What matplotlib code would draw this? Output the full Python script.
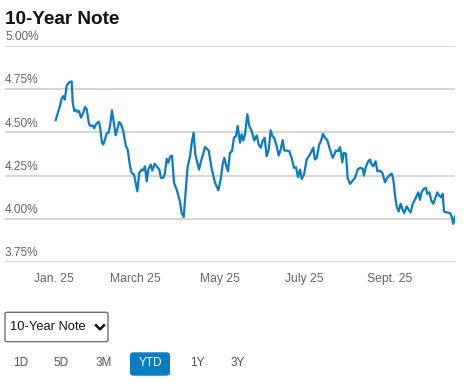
import matplotlib
matplotlib.use("Agg")
import matplotlib.pyplot as plt
import matplotlib.dates as mdates
from matplotlib.patches import FancyBboxPatch
from matplotlib.lines import Line2D
import datetime as dt

plt.rcParams['font.family'] = ['Liberation Sans', 'DejaVu Sans']

# days since Jan 1 2025 and 10-year yield (%)
days = [1.2, 4.3, 5.6, 6.7, 7.8, 9.2, 10.9, 12.8, 13.6, 14.7, 15.9, 16.9, 18.1, 19.6,
        21.2, 22.5, 23.7, 25.4, 26.6, 28.0, 29.2, 30.4, 32.4, 33.3, 34.8, 35.7, 37.0,
        38.2, 39.6, 40.8, 42.0, 43.0, 44.7, 46.2, 47.3, 48.6, 50.2, 52.0, 53.4, 55.1,
        56.3, 58.0, 60.4, 61.8, 63.6, 64.7, 65.9, 67.2, 68.3, 70.1, 71.2, 73.0, 74.4,
        76.3, 77.5, 79.2, 80.2, 81.7, 82.8, 84.1, 85.5, 87.0, 88.9, 91.3, 92.5, 94.0,
        95.7, 96.9, 98.6, 100.0, 101.2, 102.4, 105.1, 106.5, 107.8, 109.4, 110.7, 112.1,
        114.3, 116.7, 119.1, 120.8, 122.2, 123.4, 124.6, 126.1, 127.5, 129.0, 130.4,
        131.9, 133.1, 134.8, 136.0, 137.2, 138.4, 140.1, 141.5, 142.8, 144.0, 145.1,
        146.9, 148.3, 149.8, 151.2, 152.7, 154.1, 155.6, 157.0, 158.2, 159.6, 161.4,
        162.8, 164.3, 165.7, 166.9, 168.6, 170.5, 172.2, 173.9, 175.4, 176.8, 178.3,
        179.5, 181.2, 183.1, 185.0, 186.7, 187.9, 189.1, 190.4, 192.2, 193.5, 194.9,
        196.4, 198.0, 200.0, 202.0, 203.1, 204.3, 206.0, 207.2, 208.0, 208.9, 210.1,
        211.6, 212.8, 214.5, 216.4, 218.1, 220.1, 221.7, 223.7, 224.6, 226.1, 227.8,
        229.0, 230.2, 231.4, 233.1, 234.3, 236.2, 237.9, 239.9, 241.5, 243.0, 244.7,
        245.9, 247.1, 248.3, 249.8, 251.2, 252.7, 253.8, 255.6, 257.0, 258.5, 259.9,
        261.6, 262.8, 264.0, 265.2, 266.4, 268.1, 269.6, 270.5, 272.0, 273.4, 274.9,
        276.3, 277.8, 279.2, 280.4, 281.7, 282.6, 284.6, 287.0, 288.2, 289.3, 290.6]
yields = [4.57, 4.653, 4.696, 4.71, 4.69, 4.77, 4.79, 4.795, 4.67, 4.624, 4.63, 4.618,
          4.624, 4.585, 4.614, 4.647, 4.634, 4.547, 4.537, 4.54, 4.523, 4.547, 4.562,
          4.537, 4.44, 4.43, 4.46, 4.494, 4.498, 4.547, 4.628, 4.576, 4.484, 4.527,
          4.56, 4.547, 4.508, 4.424, 4.40, 4.304, 4.266, 4.256, 4.159, 4.266, 4.285,
          4.28, 4.304, 4.217, 4.285, 4.314, 4.279, 4.318, 4.304, 4.285, 4.237, 4.237,
          4.256, 4.347, 4.324, 4.359, 4.366, 4.208, 4.169, 4.10, 4.033, 4.01, 4.188,
          4.304, 4.362, 4.45, 4.498, 4.372, 4.285, 4.333, 4.366, 4.415, 4.405, 4.395,
          4.289, 4.208, 4.165, 4.227, 4.314, 4.353, 4.314, 4.275, 4.382, 4.391, 4.469,
          4.479, 4.537, 4.44, 4.488, 4.453, 4.488, 4.605, 4.537, 4.517, 4.488, 4.453,
          4.483, 4.43, 4.411, 4.45, 4.469, 4.362, 4.401, 4.512, 4.479, 4.469, 4.42,
          4.366, 4.401, 4.455, 4.395, 4.395, 4.391, 4.353, 4.295, 4.298, 4.242, 4.285,
          4.231, 4.256, 4.343, 4.366, 4.391, 4.411, 4.343, 4.353, 4.43, 4.45, 4.492,
          4.469, 4.455, 4.401, 4.353, 4.372, 4.395, 4.391, 4.415, 4.382, 4.327, 4.382,
          4.376, 4.237, 4.202, 4.221, 4.237, 4.285, 4.295, 4.291, 4.25, 4.304, 4.333,
          4.343, 4.314, 4.304, 4.333, 4.275, 4.279, 4.266, 4.211, 4.237, 4.25, 4.262,
          4.227, 4.14, 4.072, 4.042, 4.087, 4.052, 4.033, 4.072, 4.052, 4.037, 4.087,
          4.11, 4.134, 4.153, 4.11, 4.155, 4.174, 4.178, 4.145, 4.153, 4.106, 4.087,
          4.12, 4.153, 4.134, 4.124, 4.145, 4.042, 4.037, 4.033, 4.013, 3.97, 4.013]

y_ticks = [3.75, 4.00, 4.25, 4.50, 4.75, 5.00]
x_ticks = ['2025-01-01', '2025-03-01', '2025-05-01', '2025-07-01', '2025-09-01']
x_labels = ['Jan. 25', 'March 25', 'May 25', 'July 25', 'Sept. 25']
buttons = ['1D', '5D', '3M', 'YTD', '1Y', '3Y']
active = 'YTD'

BLUE = '#0a7cc2'
W, H = 470, 386

start = mdates.date2num(dt.datetime(2025, 1, 1))
xs = [start + d for d in days]

fig = plt.figure(figsize=(W / 100, H / 100), dpi=100)
ax = fig.add_axes([5 / W, 1 - 262 / H, 450 / W, 216 / H])
ax.set_xlim(start - 35.5, start + 290.6)
ax.set_ylim(3.75, 5.00)

for v in y_ticks:
    ax.axhline(v, color='#cccccc', lw=1.1, zorder=1)
    ax.annotate(f'{v:.2f}%', xy=(0, v), xycoords=ax.get_yaxis_transform(),
                xytext=(0, 2), textcoords='offset points', ha='left', va='bottom',
                fontsize=8.6, color='#666666')

ax.plot(xs, yields, color=BLUE, lw=1.6, solid_joinstyle='round', zorder=3)

ax.set_xticks([mdates.date2num(dt.datetime.strptime(t, '%Y-%m-%d')) for t in x_ticks])
ax.set_xticklabels(x_labels, fontsize=8.7, color='#666666')
ax.tick_params(axis='x', length=0, pad=8)
ax.set_yticks([])
for s in ax.spines.values():
    s.set_visible(False)

fig.text(5 / W, 1 - 24 / H, '10-Year Note', fontsize=13.6, fontweight='bold',
         color='#111111', ha='left', va='baseline')

# dropdown
fig.patches.append(FancyBboxPatch((5 / W, 1 - 341.7 / H), 103 / W, 29.4 / H,
                                  boxstyle='round,pad=0,rounding_size=0.004',
                                  transform=fig.transFigure, fc='white',
                                  ec='#707070', lw=1))
fig.text(10.5 / W, 1 - 327 / H, '10-Year Note', fontsize=9.3, color='#111111',
         ha='left', va='center')
fig.lines.append(Line2D([96 / W, 100 / W, 104 / W],
                        [1 - 325.3 / H, 1 - 329.3 / H, 1 - 325.3 / H],
                        transform=fig.transFigure, color='#111111', lw=1.8))

# range buttons
btn_x = [20.7, 61, 103.7, 150, 197.3, 238]
for lab, bx in zip(buttons, btn_x):
    if lab == active:
        fig.patches.append(FancyBboxPatch((130 / W, 1 - 375.7 / H), 40 / W, 23.4 / H,
                                          boxstyle='round,pad=0,rounding_size=0.008',
                                          transform=fig.transFigure, fc=BLUE, ec='none'))
        col = 'white'
    else:
        col = '#555555'
    fig.text(bx / W, 1 - 363.5 / H, lab, fontsize=8.5, color=col,
             ha='center', va='center')

fig.savefig('out.png', dpi=100)
